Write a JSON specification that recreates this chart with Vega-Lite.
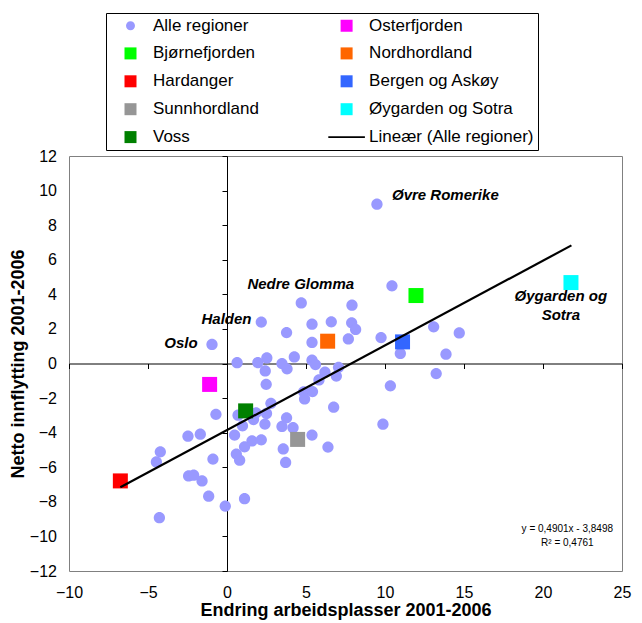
{
  "$schema": "https://vega.github.io/schema/vega-lite/v6.json",
  "width": 553,
  "height": 415,
  "autosize": {"type": "none"},
  "padding": {"left": 69, "top": 156, "right": 20, "bottom": 52},
  "config": {
    "font": "Liberation Sans",
    "view": {"stroke": "#808080", "strokeWidth": 1},
    "axis": {"labelOverlap": false}
  },
  "datasets": {
    "punkter": [
      {"x": -0.95, "y": 1.1, "serie": "Alle regioner"},
      {"x": 2.17, "y": 2.4, "serie": "Alle regioner"},
      {"x": 4.7, "y": 3.5, "serie": "Alle regioner"},
      {"x": 9.49, "y": 9.21, "serie": "Alle regioner"},
      {"x": 10.44, "y": 4.49, "serie": "Alle regioner"},
      {"x": 7.91, "y": 3.37, "serie": "Alle regioner"},
      {"x": 5.38, "y": 2.27, "serie": "Alle regioner"},
      {"x": 6.6, "y": 2.41, "serie": "Alle regioner"},
      {"x": 7.89, "y": 2.35, "serie": "Alle regioner"},
      {"x": 8.14, "y": 1.97, "serie": "Alle regioner"},
      {"x": 3.77, "y": 1.79, "serie": "Alle regioner"},
      {"x": 5.38, "y": 1.22, "serie": "Alle regioner"},
      {"x": 7.68, "y": 1.42, "serie": "Alle regioner"},
      {"x": 9.75, "y": 1.5, "serie": "Alle regioner"},
      {"x": 13.08, "y": 2.12, "serie": "Alle regioner"},
      {"x": 14.7, "y": 1.77, "serie": "Alle regioner"},
      {"x": 10.97, "y": 0.58, "serie": "Alle regioner"},
      {"x": 13.86, "y": 0.54, "serie": "Alle regioner"},
      {"x": 0.64, "y": 0.05, "serie": "Alle regioner"},
      {"x": 1.95, "y": 0.05, "serie": "Alle regioner"},
      {"x": 2.52, "y": 0.32, "serie": "Alle regioner"},
      {"x": 3.48, "y": 0.0, "serie": "Alle regioner"},
      {"x": 3.8, "y": -0.31, "serie": "Alle regioner"},
      {"x": 4.26, "y": 0.38, "serie": "Alle regioner"},
      {"x": 5.38, "y": 0.19, "serie": "Alle regioner"},
      {"x": 5.6, "y": -0.06, "serie": "Alle regioner"},
      {"x": 6.2, "y": -0.5, "serie": "Alle regioner"},
      {"x": 7.06, "y": -0.22, "serie": "Alle regioner"},
      {"x": 6.92, "y": -0.73, "serie": "Alle regioner"},
      {"x": 5.82, "y": -0.95, "serie": "Alle regioner"},
      {"x": 2.42, "y": -0.43, "serie": "Alle regioner"},
      {"x": 2.48, "y": -1.2, "serie": "Alle regioner"},
      {"x": 10.34, "y": -1.29, "serie": "Alle regioner"},
      {"x": 13.24, "y": -0.58, "serie": "Alle regioner"},
      {"x": 4.85, "y": -1.64, "serie": "Alle regioner"},
      {"x": 5.41, "y": -1.62, "serie": "Alle regioner"},
      {"x": 4.91, "y": -2.05, "serie": "Alle regioner"},
      {"x": 2.78, "y": -2.3, "serie": "Alle regioner"},
      {"x": 6.75, "y": -2.53, "serie": "Alle regioner"},
      {"x": 0.7, "y": -2.99, "serie": "Alle regioner"},
      {"x": -0.7, "y": -2.94, "serie": "Alle regioner"},
      {"x": 1.84, "y": -2.85, "serie": "Alle regioner"},
      {"x": 2.5, "y": -2.89, "serie": "Alle regioner"},
      {"x": 1.68, "y": -3.24, "serie": "Alle regioner"},
      {"x": 0.98, "y": -3.6, "serie": "Alle regioner"},
      {"x": 2.4, "y": -3.5, "serie": "Alle regioner"},
      {"x": 3.77, "y": -3.14, "serie": "Alle regioner"},
      {"x": 3.48, "y": -3.64, "serie": "Alle regioner"},
      {"x": 4.18, "y": -3.71, "serie": "Alle regioner"},
      {"x": 0.48, "y": -4.14, "serie": "Alle regioner"},
      {"x": 5.38, "y": -4.14, "serie": "Alle regioner"},
      {"x": 1.58, "y": -4.48, "serie": "Alle regioner"},
      {"x": 2.17, "y": -4.41, "serie": "Alle regioner"},
      {"x": 1.11, "y": -4.82, "serie": "Alle regioner"},
      {"x": 3.56, "y": -4.94, "serie": "Alle regioner"},
      {"x": 6.39, "y": -4.83, "serie": "Alle regioner"},
      {"x": 9.87, "y": -3.51, "serie": "Alle regioner"},
      {"x": -2.47, "y": -4.2, "serie": "Alle regioner"},
      {"x": -1.69, "y": -4.09, "serie": "Alle regioner"},
      {"x": -4.22, "y": -5.11, "serie": "Alle regioner"},
      {"x": -4.47, "y": -5.69, "serie": "Alle regioner"},
      {"x": -0.89, "y": -5.53, "serie": "Alle regioner"},
      {"x": 0.59, "y": -5.24, "serie": "Alle regioner"},
      {"x": 0.8, "y": -5.59, "serie": "Alle regioner"},
      {"x": 3.71, "y": -5.72, "serie": "Alle regioner"},
      {"x": -2.43, "y": -6.5, "serie": "Alle regioner"},
      {"x": -2.11, "y": -6.46, "serie": "Alle regioner"},
      {"x": -1.58, "y": -6.79, "serie": "Alle regioner"},
      {"x": -1.16, "y": -7.67, "serie": "Alle regioner"},
      {"x": -0.11, "y": -8.25, "serie": "Alle regioner"},
      {"x": 1.11, "y": -7.82, "serie": "Alle regioner"},
      {"x": -4.28, "y": -8.92, "serie": "Alle regioner"},
      {"x": -1.1, "y": -1.21, "serie": "Osterfjorden"},
      {"x": 11.96, "y": 3.93, "serie": "Bjørnefjorden"},
      {"x": 6.37, "y": 1.29, "serie": "Nordhordland"},
      {"x": -6.75, "y": -6.79, "serie": "Hardanger"},
      {"x": 11.11, "y": 1.25, "serie": "Bergen og Askøy"},
      {"x": 4.47, "y": -4.39, "serie": "Sunnhordland"},
      {"x": 21.77, "y": 4.68, "serie": "Øygarden og Sotra"},
      {"x": 1.18, "y": -2.74, "serie": "Voss"}
    ],
    "trend": [
      {"x": -6.75, "y": -7.16},
      {"x": 21.8, "y": 6.83}
    ],
    "etiketter": [
      {"x": 13.82, "y": 9.73, "tekst": "Øvre Romerike"},
      {"x": 4.67, "y": 4.57, "tekst": "Nedre Glomma"},
      {"x": -0.03, "y": 2.56, "tekst": "Halden"},
      {"x": -2.91, "y": 1.16, "tekst": "Oslo"},
      {"x": 21.13, "y": 3.89, "tekst": "Øygarden og\nSotra"}
    ],
    "likning": [
      {"x": 21.54, "y": -9.58, "tekst": "y = 0,4901x - 3,8498\nR² = 0,4761"}
    ]
  },
  "encoding": {
    "x": {
      "field": "x", "type": "quantitative",
      "scale": {"domain": [-10, 25], "nice": false, "zero": false},
      "title": "Endring arbeidsplasser 2001-2006",
      "axis": {
        "orient": "bottom", "offset": -207.5, "grid": false,
        "values": [-10, -5, 0, 5, 10, 15, 20, 25],
        "domainColor": "black", "domainWidth": 1,
        "tickColor": "black", "tickSize": 5, "tickWidth": 1,
        "labelPadding": 215.5, "labelFontSize": 16, "labelColor": "black",
        "labelFlush": false, "labelOverlap": false,
        "titleFontSize": 18, "titleFontWeight": "bold", "titleColor": "black", "titlePadding": 38
      }
    },
    "y": {
      "field": "y", "type": "quantitative",
      "scale": {"domain": [-12, 12], "nice": false, "zero": false},
      "title": "Netto innflytting 2001-2006",
      "axis": {
        "orient": "left", "offset": -158, "grid": false,
        "values": [-12, -10, -8, -6, -4, -2, 0, 2, 4, 6, 8, 10, 12],
        "domainColor": "black", "domainWidth": 1,
        "tickColor": "black", "tickSize": 5, "tickWidth": 1,
        "labelPadding": 165.5, "labelFontSize": 16, "labelColor": "black",
        "labelFlush": false, "labelOverlap": false, "labelSeparation": 0,
        "titleFontSize": 18, "titleFontWeight": "bold", "titleColor": "black", "titlePadding": 2
      }
    }
  },
  "layer": [
    {
      "data": {"name": "punkter"},
      "mark": {"type": "point", "filled": true, "opacity": 1, "size": 225, "strokeWidth": 0},
      "encoding": {
        "color": {
          "field": "serie", "type": "nominal",
          "scale": {
            "domain": ["Alle regioner", "Bjørnefjorden", "Hardanger", "Sunnhordland", "Voss", "Osterfjorden", "Nordhordland", "Bergen og Askøy", "Øygarden og Sotra", "Lineær (Alle regioner)"],
            "range": ["#9999FF", "#00FF00", "#FF0000", "#969696", "#008000", "#FF00FF", "#FF6600", "#3366FF", "#00FFFF", "#000000"]
          },
          "legend": {
            "orient": "none", "legendX": 37, "legendY": -143,
            "columns": 2, "title": " ", "titleOrient": "left", "titleFontSize": 1, "titlePadding": 12,
            "strokeColor": "black", "padding": 4,
            "labelFontSize": 17, "labelColor": "black", "labelLimit": 400,
            "symbolSize": 144, "labelOffset": 14, "rowPadding": 9.9, "columnPadding": 69.1,
            "symbolStrokeWidth": 0
          }
        },
        "shape": {
          "field": "serie", "type": "nominal",
          "scale": {
            "domain": ["Alle regioner", "Bjørnefjorden", "Hardanger", "Sunnhordland", "Voss", "Osterfjorden", "Nordhordland", "Bergen og Askøy", "Øygarden og Sotra", "Lineær (Alle regioner)"],
            "range": ["M-0.75,0A0.75,0.75,0,1,0,0.75,0A0.75,0.75,0,1,0,-0.75,0Z", "square", "square", "square", "square", "square", "square", "square", "square", "M-3.05,-0.16H3.05V0.16H-3.05Z"]
          }
        }
      }
    },
    {
      "data": {"name": "trend"},
      "mark": {"type": "line", "color": "black", "strokeWidth": 2.2}
    },
    {
      "data": {"name": "etiketter"},
      "mark": {"type": "text", "fontSize": 15, "fontWeight": "bold", "fontStyle": "italic", "align": "center", "baseline": "middle", "lineBreak": "\n", "lineHeight": 19, "color": "black"},
      "encoding": {
        "text": {"field": "tekst", "type": "nominal"}
      }
    },
    {
      "data": {"name": "likning"},
      "mark": {"type": "text", "fontSize": 10, "align": "center", "baseline": "middle", "lineBreak": "\n", "lineHeight": 14.3, "color": "black"},
      "encoding": {
        "text": {"field": "tekst", "type": "nominal"}
      }
    }
  ]
}
